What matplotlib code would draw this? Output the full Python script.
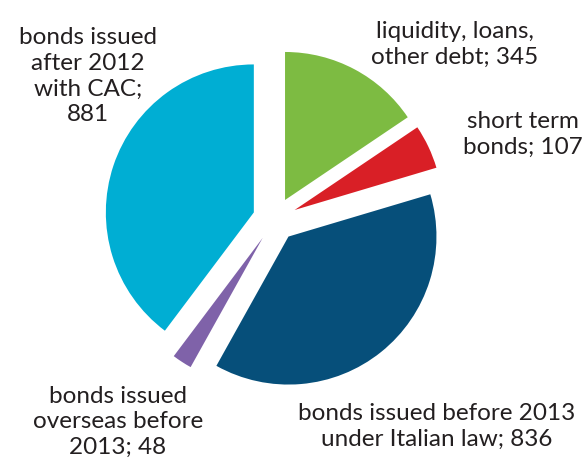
import matplotlib.pyplot as plt

labels = ["liquidity, loans,\nother debt; 345",
          "short term\nbonds; 107",
          "bonds issued before 2013\nunder Italian law; 836",
          "bonds issued\noverseas before\n2013; 48",
          "bonds issued\nafter 2012\nwith CAC;\n881"]
values = [345, 107, 836, 48, 881]
colors = ["#7dbb42", "#d91f26", "#064f7a", "#7f62a9", "#00aed3"]

# label placement in pixel coords (x, y from top)
label_pos = [(455, 44), (523, 134), (437, 426), (118, 422), (88, 76)]

W, H = 582, 457
fig = plt.figure(figsize=(W / 100, H / 100), dpi=100)
ax = fig.add_axes([0, 0, 1, 1])
ax.set_xlim(0, W)
ax.set_ylim(0, H)
ax.set_aspect("equal")
ax.axis("off")

# explode is in data units here (pixels), since radius isn't 1
ax.pie(values, colors=colors, startangle=90, counterclock=False,
       radius=148, center=(274.7, H - 219.4),
       explode=[22] * len(values),
       wedgeprops=dict(linewidth=0))

for lab, (x, y) in zip(labels, label_pos):
    ax.text(x, H - y, lab, ha="center", va="center", fontsize=17.5,
            family="Lato", color="#231f20", linespacing=1.28)

ax.set_xlim(0, W)
ax.set_ylim(0, H)
fig.savefig("out.png", dpi=100)
